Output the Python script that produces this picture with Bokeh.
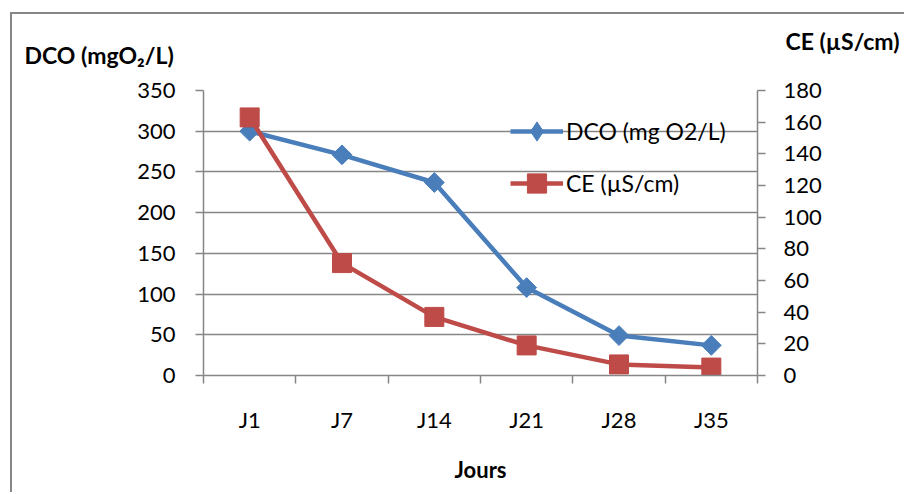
from bokeh.plotting import figure
from bokeh.models import (ColumnDataSource, Range1d, LinearAxis, FixedTicker,
                          Legend, LegendItem, Label)
from bokeh.embed import file_html
from bokeh.resources import INLINE
import math

# ---- data ----
days = ["J1", "J7", "J14", "J21", "J28", "J35"]
dco = [300, 271, 237, 108, 49, 37]        # mg O2/L (left axis)
ce = [163, 71, 37, 19, 7, 5]              # µS/cm (right axis)
dco_ticks = [0, 50, 100, 150, 200, 250, 300, 350]
ce_ticks = [0, 20, 40, 60, 80, 100, 120, 140, 160, 180]

xpos = [i + 0.5 for i in range(len(days))]
src = ColumnDataSource(dict(x=xpos, dco=dco, ce=ce))

FONT = "Lato"
GRAY = "#868686"
BLUE = "#4A7EBB"
RED = "#BE4B48"

W, H = 894, 480
BL, BR, BT, BB = 191, 149, 76, 119
p = figure(width=W, height=H, output_backend="svg", toolbar_location=None,
           x_range=Range1d(0, len(days)), y_range=Range1d(0, 350),
           min_border_left=BL, min_border_right=BR,
           min_border_top=BT, min_border_bottom=BB,
           margin=(12, 0, 0, 10))
p.styles = {"border-left": "2px solid #868686", "border-top": "2px solid #868686"}
p.outline_line_color = None
p.background_fill_color = "white"
p.border_fill_color = "white"

p.extra_y_ranges = {"ce": Range1d(0, 180)}

# x axis (category labels between boundary ticks)
xa = p.xaxis[0]
xa.ticker = FixedTicker(ticks=xpos, minor_ticks=list(range(len(days) + 1)))
xa.major_label_overrides = {x: d for x, d in zip(xpos, days)}
xa.major_tick_out = 0
xa.major_tick_in = 0
xa.minor_tick_out = 8
xa.minor_tick_in = 0
xa.minor_tick_line_color = GRAY
xa.minor_tick_line_width = 1.5
xa.axis_line_color = GRAY
xa.axis_line_width = 1.5
xa.major_label_standoff = 22
xa.major_label_text_font = FONT
xa.major_label_text_font_size = "22px"
xa.major_label_text_color = "black"
xa.axis_label = "Jours"
xa.axis_label_text_font = FONT
xa.axis_label_text_font_size = "22px"
xa.axis_label_text_font_style = "bold"
xa.axis_label_text_color = "black"
xa.axis_label_standoff = 20
p.xgrid.visible = False

# left axis
ya = p.yaxis[0]
ya.ticker = FixedTicker(ticks=dco_ticks, minor_ticks=[])
ya.major_tick_out = 8
ya.major_tick_in = 0
ya.major_tick_line_color = GRAY
ya.major_tick_line_width = 1.5
ya.minor_tick_out = 0
ya.minor_tick_in = 0
ya.axis_line_color = GRAY
ya.axis_line_width = 1.5
ya.major_label_standoff = 20
ya.major_label_text_font = FONT
ya.major_label_text_font_size = "22px"
ya.major_label_text_color = "black"
p.ygrid[0].grid_line_color = GRAY
p.ygrid[0].grid_line_width = 1.5

# right axis
ra = LinearAxis(y_range_name="ce", ticker=FixedTicker(ticks=ce_ticks, minor_ticks=[]))
ra.major_tick_out = 8
ra.major_tick_in = 0
ra.major_tick_line_color = GRAY
ra.major_tick_line_width = 1.5
ra.minor_tick_out = 0
ra.minor_tick_in = 0
ra.axis_line_color = GRAY
ra.axis_line_width = 1.5
ra.major_label_standoff = 18
ra.major_label_text_font = FONT
ra.major_label_text_font_size = "22px"
ra.major_label_text_color = "black"
p.add_layout(ra, "right")

# series
l1 = p.line("x", "dco", source=src, line_color=BLUE, line_width=4.5)
m1 = p.scatter("x", "dco", source=src, marker="square", size=14, angle=math.pi / 4,
               fill_color=BLUE, line_color=BLUE)
# legend-only diamond glyph (legend glyphs are never rotated)
m1_leg = p.scatter("x", "dco", source=src, marker="diamond", size=20,
                   fill_color=BLUE, line_color=BLUE, visible=False)
l2 = p.line("x", "ce", source=src, y_range_name="ce", line_color=RED, line_width=4.5)
m2 = p.scatter("x", "ce", source=src, y_range_name="ce", marker="square", size=19,
               fill_color=RED, line_color=RED)

legend = Legend(items=[LegendItem(label="DCO (mg O2/L)", renderers=[l1, m1_leg]),
                       LegendItem(label="CE (µS/cm)", renderers=[l2, m2])],
                location=(307, 168), orientation="vertical",
                background_fill_alpha=0, border_line_color=None,
                padding=0, margin=0, spacing=4,
                glyph_width=53, glyph_height=48, label_height=48,
                label_standoff=3, click_policy="none",
                label_text_font=FONT, label_text_font_size="23px",
                label_text_color="black")
p.add_layout(legend, "center")

# axis titles, placed in canvas pixels within the top panel
p.add_layout(Label(x=10, y=38, x_units="canvas", y_units="canvas",
                   text="DCO (mgO₂/L)", text_font=FONT, text_font_size="23px",
                   text_font_style="bold", text_baseline="middle",
                   text_color="black"), "above")
p.add_layout(Label(x=771, y=24, x_units="canvas", y_units="canvas",
                   text="CE (µS/cm)", text_font=FONT, text_font_size="23px",
                   text_font_style="bold", text_baseline="middle",
                   text_color="black"), "above")

open("out.html", "w").write(file_html(p, INLINE))
